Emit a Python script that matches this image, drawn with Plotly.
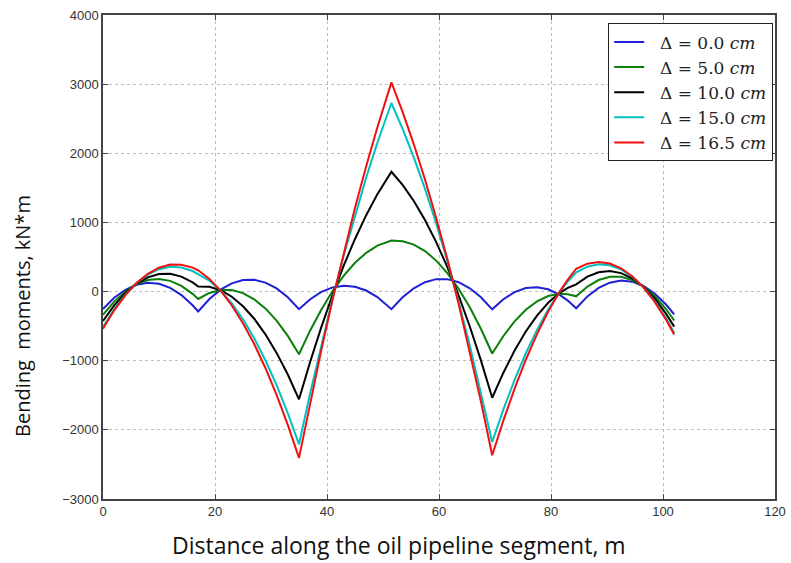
import plotly.graph_objects as go

# Distance along the pipeline segment, m
x_m = [0, 2, 4, 6, 8, 10, 12, 14, 16, 17,
       19, 21, 23, 25, 27, 29, 31, 33, 35,
       37, 39, 41, 43, 45, 47, 49, 51.5,
       53.5, 55.5, 57.5, 59.5, 61.5, 63.5, 65.5, 67.5, 69.5,
       71.5, 73.5, 75.5, 77.5, 79.5, 81.5, 83, 84.5,
       86.5, 88.5, 90.5, 92.5, 94.5, 96.5, 98.5, 100.5, 102]

# Bending moments, kN*m
m_d00 = [-251, -90, 26, 99, 128, 112, 53, -51, -198, -288,
         -108, 28, 119, 167, 171, 130, 46, -82, -255,
         -110, -5, 60, 85, 70, 15, -80, -255,
         -83, 48, 136, 180, 180, 136, 48, -83, -257,
         -111, -8, 51, 64, 33, -44, -130, -242,
         -70, 53, 129, 159, 143, 81, -28, -184, -331]

m_d50 = [-337, -145, 2, 107, 167, 183, 155, 82, -33, -107,
         -20, 24, 22, -22, -111, -244, -421, -641, -906,
         -562, -258, 7, 231, 416, 560, 664, 739,
         729, 679, 586, 448, 267, 41, -228, -541, -896,
         -642, -431, -263, -142, -65, -33, -38, -69,
         73, 167, 213, 213, 167, 75, -64, -249, -419]

m_d100 = [-424, -200, -21, 115, 206, 253, 257, 216, 132, 73,
          68, 20, -75, -212, -393, -618, -887, -1200, -1558,
          -1014, -510, -46, 378, 761, 1105, 1409, 1733,
          1542, 1310, 1035, 716, 353, -54, -505, -999, -1536,
          -1173, -853, -577, -348, -162, -22, 54, 105,
          217, 280, 296, 267, 191, 69, -100, -315, -507]

m_d150 = [-510, -255, -45, 123, 245, 324, 359, 349, 297, 254,
          157, 15, -172, -401, -674, -993, -1354, -1759, -2209,
          -1466, -763, -99, 524, 1107, 1650, 2153, 2727,
          2354, 1941, 1485, 984, 440, -149, -781, -1457, -2175,
          -1704, -1276, -892, -554, -260, -11, 146, 278,
          360, 394, 380, 321, 215, 64, -135, -380, -595]

m_d165 = [-536, -271, -52, 125, 257, 345, 390, 389, 346, 308,
          183, 14, -201, -458, -759, -1105, -1494, -1927, -2405,
          -1602, -839, -115, 568, 1211, 1814, 2377, 3025,
          2598, 2130, 1620, 1065, 466, -177, -864, -1594, -2367,
          -1863, -1403, -986, -616, -289, -8, 174, 330,
          403, 428, 405, 337, 222, 62, -146, -400, -621]

series_names = ["\u00a0\u00a0Δ = 0.0 <i>cm</i>", "\u00a0\u00a0Δ = 5.0 <i>cm</i>",
                "\u00a0\u00a0Δ = 10.0 <i>cm</i>", "\u00a0\u00a0Δ = 15.0 <i>cm</i>",
                "\u00a0\u00a0Δ = 16.5 <i>cm</i>"]
series_values = [m_d00, m_d50, m_d100, m_d150, m_d165]
series_colors = ["#1f1fd6", "#0a7f0a", "#000000", "#00c0c0", "#f01010"]

x_ticks = [0, 20, 40, 60, 80, 100, 120]
y_ticks = [-3000, -2000, -1000, 0, 1000, 2000, 3000, 4000]

fig = go.Figure()
for i, (name, vals, col) in enumerate(zip(series_names, series_values, series_colors)):
    fig.add_trace(go.Scatter(x=x_m, y=vals, mode="lines", name=name,
                             legendgroup=f"g{i}",
                             line=dict(color=col, width=2)))

axis_common = dict(showline=True, linecolor="#444", linewidth=1.5, mirror="ticks",
                   ticks="inside", ticklen=5, tickcolor="#444",
                   showgrid=True, gridcolor="#bdbdbd", griddash="dot", gridwidth=1,
                   zeroline=False, automargin=False,
                   tickfont=dict(family="Liberation Sans, Arial", size=13, color="#333"))

fig.update_xaxes(range=[0, 120], tickvals=x_ticks, **axis_common)
fig.update_yaxes(range=[-3000, 4000], tickvals=y_ticks, **axis_common)

fig.update_layout(
    width=791, height=563,
    margin=dict(l=103, r=16, t=15, b=64),
    paper_bgcolor="white", plot_bgcolor="white",
    showlegend=True,
    legend=dict(x=0.997, y=0.983, xanchor="right", yanchor="top",
                bgcolor="white", bordercolor="#222", borderwidth=1.2,
                font=dict(family="DejaVu Serif, Liberation Serif", size=17, color="#222"),
                itemwidth=30, tracegroupgap=0),
    annotations=[
        dict(text="Distance along the oil pipeline segment, m", xref="paper", yref="paper",
             x=(399 - 103) / 672, y=-(545 - 499) / 484, xanchor="center", yanchor="middle",
             showarrow=False, font=dict(family="Open Sans, Noto Sans", size=23, color="#111")),
        dict(text="Bending  moments, kN*m", xref="paper", yref="paper",
             x=-(103 - 22) / 672, y=(499 - 316) / 484, xanchor="center", yanchor="middle",
             textangle=-90, showarrow=False,
             font=dict(family="Open Sans, Noto Sans", size=20, color="#111")),
    ],
)

fig.write_html("out.html", config={"displayModeBar": False},
               post_script="document.body.style.margin='0';document.body.style.padding='0';"
                           "document.body.style.overflow='hidden';")
